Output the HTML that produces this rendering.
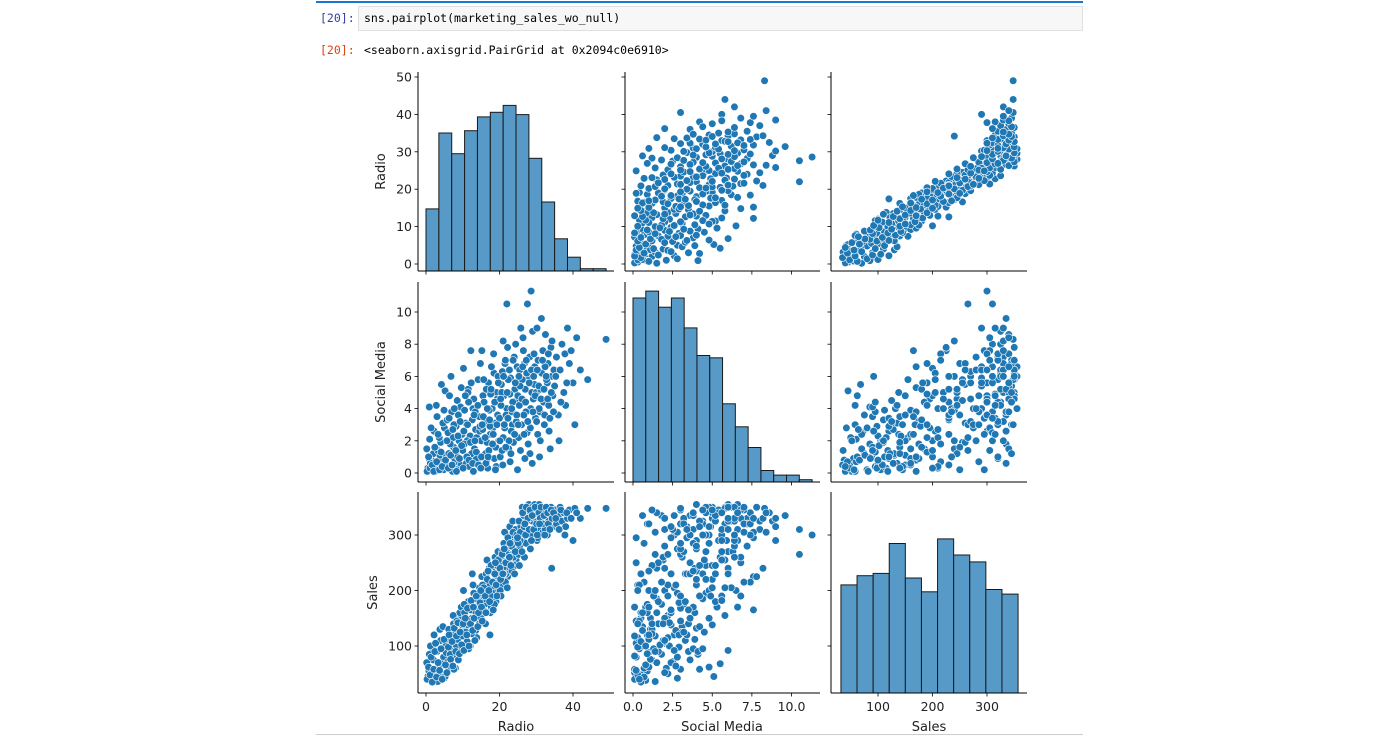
<!DOCTYPE html>
<html><head><meta charset="utf-8"><style>
body{margin:0;background:#fff;width:1400px;height:736px;overflow:hidden;position:relative;font-family:"DejaVu Sans","Liberation Sans",sans-serif}
.mono{font-family:"DejaVu Sans Mono","Liberation Mono",monospace;font-size:11.5px;position:absolute}
</style></head><body>
<div style="position:absolute;left:316px;top:1px;width:767px;height:2px;background:#1976d2"></div>
<div class="mono" style="left:320px;top:11px;color:#303f9f">[20]:</div>
<div style="position:absolute;left:358px;top:6px;width:725px;height:25px;border:1px solid #e0e0e0;background:#f7f7f7;box-sizing:border-box"></div>
<div class="mono" style="left:364px;top:11px;color:#000">sns.pairplot(marketing_sales_wo_null)</div>
<div class="mono" style="left:320px;top:43px;color:#d84315">[20]:</div>
<div class="mono" style="left:364px;top:43px;color:#000">&lt;seaborn.axisgrid.PairGrid at 0x2094c0e6910&gt;</div>
<div style="position:absolute;left:316px;top:734px;width:767px;height:1px;background:#ccc"></div>
<svg id="chart" width="1400" height="736" style="position:absolute;left:0;top:0"></svg>
<script>
const radioHistCounts=[27,60,51,61,67,69,72,68,49,30,14,6,1,1];
const socialHistCounts=[80,83,76,80,67,55,54,34,24,15,5,3,3,1];
const salesHistCounts=[47,51,52,65,50,44,67,60,57,45,43];
const radioTicks=[0,10,20,30,40,50];
const socialTicks=[0,2,4,6,8,10];
const salesTicks=[100,200,300];
const radioXTicks=[0,20,40];
const socialXTicks=[0,2.5,5,7.5,10];
const socialXLabels=["0.0","2.5","5.0","7.5","10.0"];
const varNames=["Radio","Social Media","Sales"];
const points=[
[0.5,0.3,45],[1,2.1,60],[1.5,0.8,38],[2,1.2,75],[2.5,0.1,52],[3,3.5,90],[3.5,0.5,48],[4,1.9,110],[4.5,0.9,65],[5,2.8,42],[0.2,1.5,70],[1.8,0.4,95],[2.8,4.2,58],[3.8,1.1,130],[4.8,0.2,80],[0.8,0.9,55],[2.2,2.6,120],[4.2,5.5,68],[1.2,0.6,100],[3.2,1.4,36],[0.9,4.1,85],[2.6,0.2,105],[4.6,3.1,135],[3.6,2.2,50],
[5.5,1.0,88],[6,2.5,72],[6.5,0.3,115],[7,3.8,95],[7.5,1.6,140],[8,0.7,60],[8.5,4.5,125],[9,2.0,105],[9.5,0.5,150],[5.2,5.1,45],[6.2,1.2,130],[7.2,0.1,82],[8.2,2.9,98],[9.2,1.5,160],[5.8,3.3,110],[6.8,6.0,92],[7.8,0.9,120],[8.8,3.6,75],[9.8,2.4,138],[6.4,4.8,62],[7.4,2.2,155],[8.6,1.0,112],[9.6,5.3,170],[5.4,0.6,100],[6.6,1.8,85],[7.6,3.0,58],[8.4,0.2,145],[9.4,4.1,90],
[10,1.4,118],[10.5,3.9,160],[11,0.6,135],[11.5,5.2,180],[12,2.3,100],[12.5,1.1,150],[13,4.6,195],[13.5,2.7,128],[14,0.8,170],[14.5,3.5,140],[10.2,6.5,200],[11.2,2.0,108],[12.2,7.6,165],[13.2,1.5,185],[14.2,5.8,155],[10.8,3.1,125],[11.8,0.4,145],[12.8,4.0,210],[13.8,2.2,115],[14.8,6.8,190],[10.4,1.8,175],[11.6,4.4,95],[12.6,3.3,230],[13.6,0.9,160],[14.6,2.6,205],[11.4,5.0,138],[12.4,1.2,122],[13.4,3.8,170],
[15,2.0,150],[15.5,4.8,200],[16,3.2,175],[16.5,0.7,215],[17,5.6,190],[17.5,2.4,160],[18,4.0,235],[18.5,6.2,205],[19,1.6,180],[19.5,3.6,250],[15.2,7.6,225],[16.2,1.2,140],[17.2,3.9,240],[18.2,2.8,195],[19.2,5.0,220],[15.8,4.4,185],[16.8,0.3,210],[17.8,6.6,170],[18.8,3.1,260],[19.8,2.0,200],[16.4,5.2,230],[17.4,2.9,120],[18.4,7.4,215],[19.4,4.6,245],[15.6,3.5,165],[16.6,1.9,255],[17.6,4.9,190],[18.6,0.9,175],[19.6,6.0,270],[15.4,2.7,210],
[20,3.4,230],[20.5,5.5,260],[21,2.2,210],[21.5,6.8,250],[22,4.0,275],[22.5,1.5,240],[23,5.9,290],[23.5,3.0,265],[24,7.2,280],[24.5,4.5,255],[20.2,1.0,200],[21.2,4.8,285],[22.2,7.8,225],[23.2,2.6,300],[24.2,5.2,245],[20.8,6.3,270],[21.8,3.6,230],[22.8,4.9,315],[23.8,1.9,260],[24.8,6.6,290],[20.4,4.2,190],[21.4,2.8,305],[22.4,5.8,255],[23.4,3.8,235],[24.4,8.0,310],[20.6,5.0,245],[21.6,7.0,215],[22.6,2.0,280],[23.6,4.4,325],[24.6,3.2,270],[22.0,10.5,265],[21.0,8.2,240],
[25,4.8,300],[25.5,6.4,280],[26,3.0,320],[26.5,7.6,295],[27,5.2,340],[27.5,2.5,310],[28,6.0,355],[28.5,4.0,290],[29,8.8,325],[29.5,5.5,345],[25.2,2.2,265],[26.2,5.8,350],[27.2,3.8,285],[28.2,7.2,330],[29.2,4.6,300],[25.8,9.0,315],[26.8,6.8,260],[27.8,1.8,335],[28.8,5.0,350],[29.8,3.4,315],[25.4,4.2,245],[26.4,8.4,305],[27.4,6.2,325],[28.4,2.8,275],[29.4,7.4,340],[25.6,5.4,290],[26.6,3.6,335],[27.6,10.5,310],[28.6,11.3,300],[29.6,6.6,355],
[30,5.0,330],[30.5,7.0,345],[31,3.8,310],[31.5,6.2,350],[32,4.4,320],[32.5,8.6,340],[33,5.6,300],[33.5,2.6,335],[34,7.8,350],[34.5,4.8,315],[30.2,9.0,290],[31.2,5.2,325],[32.2,3.0,345],[33.2,6.8,330],[34.2,6.0,240],[30.8,4.0,355],[31.8,7.6,305],[32.8,5.8,320],[33.8,1.5,340],[34.8,6.4,325],[30.4,2.4,295],[31.4,9.6,335],[32.4,6.6,310],[33.4,4.2,325],
[35,5.4,345],[35.5,7.2,320],[36,3.6,335],[36.5,6.4,350],[37,8.0,325],[37.5,5.0,340],[38,4.2,315],[38.5,9.0,330],[39,6.8,345],[40,5.6,290],[40.5,3.0,348],[42,6.4,330],[44,5.8,348],[49,8.3,348],[36.2,2.0,310],[37.8,7.4,300],
[0.3,0.1,40],[0.7,1.0,62],[1.1,0.3,48],[1.4,2.8,80],[1.7,0.5,35],[2.1,0.1,58],[2.4,1.6,90],[2.9,0.7,44],[3.3,2.4,70],[3.7,0.2,56],[4.1,1.3,95],[4.4,0.4,40],[4.9,3.9,112],[5.3,0.8,66],[5.7,2.0,52],[6.1,0.3,98],[6.3,3.4,120],[6.7,1.1,76],[7.1,0.5,108],[7.3,2.7,64],[7.7,4.0,132],[8.1,1.4,90],[8.3,0.1,118],[8.7,2.3,142],[9.1,0.9,86],[9.3,3.2,125],[9.7,1.7,102],[10.1,0.3,140],[10.3,2.6,92],[10.7,4.8,150],[11.1,1.0,120],[11.3,3.0,168],[11.7,0.8,100],[12.1,1.9,140],[12.3,5.6,182],[12.7,0.6,128],[13.1,3.6,150],[13.3,2.0,110],[13.7,1.3,190],[14.1,4.2,135],[14.3,0.5,160],[14.7,2.9,178],
[15.1,1.0,170],[15.3,3.0,145],[15.7,5.8,205],[16.1,2.2,190],[16.3,0.6,160],[16.7,4.0,220],[17.1,1.4,200],[17.3,3.3,180],[17.7,5.2,245],[18.1,1.8,215],[18.3,2.4,165],[18.7,4.4,230],[19.1,0.4,210],[19.3,3.0,190],[19.7,5.6,255],[20.1,2.0,240],[20.3,4.6,220],[20.7,1.4,265],[21.1,6.0,230],[21.3,3.0,275],[21.7,1.6,250],[22.1,5.0,205],[22.3,3.4,295],[22.7,6.4,260],[23.1,1.2,245],[23.3,4.0,280],[23.7,7.0,305],[24.1,2.4,230],[24.3,5.6,270],[24.7,3.6,300],
[25.1,3.0,285],[25.3,6.0,325],[25.7,1.4,305],[26.1,4.6,270],[26.3,6.6,340],[26.7,2.4,315],[27.1,4.4,300],[27.3,7.0,350],[27.7,3.2,330],[28.1,5.6,310],[28.3,1.2,345],[28.7,6.4,290],[29.1,3.8,335],[29.3,6.0,310],[29.7,4.8,350],[30.1,3.2,320],[30.3,6.4,300],[30.7,5.4,340],[31.1,2.0,330],[31.3,4.6,350],[31.7,7.0,320],[32.1,5.2,335],[32.3,3.6,300],[32.7,6.0,350],[33.1,4.6,340],[33.3,7.4,320],[33.7,3.4,310],[34.1,5.0,345],[34.3,8.2,330],[34.7,3.8,340],[35.3,6.0,330],[36.7,4.4,345],[38.3,5.6,340],[39.5,7.6,330],[41,8.4,340],
[18.9,0.2,250],[22.9,0.7,285],[26.9,0.9,320],[20.9,0.5,230],[16.9,1.0,235],[24.9,0.2,295],[28.9,0.6,335],[30.9,1.0,320],[14.9,0.3,200],[12.9,0.1,170]
];
const NS="http://www.w3.org/2000/svg";
const svg=document.getElementById('chart');
function mk(tag,attrs,parent){const e=document.createElementNS(NS,tag);for(const k in attrs)e.setAttribute(k,attrs[k]);(parent||svg).appendChild(e);return e;}
const xScale=[v=>426+v*3.675, v=>633+v*15.85, v=>878+(v-100)*0.545];
const yScale=[v=>264-v*3.74, v=>473-v*16.1, v=>646-(v-100)*0.555];
const colL=[418,625,831], colR=[614,820,1027];
const rowT=[72,282,492], rowB=[271,482,693];
const xTickSets=[radioXTicks,socialXTicks,salesTicks];
const xTickLabels=[radioXTicks.map(String),socialXLabels,salesTicks.map(String)];
const yTickSets=[radioTicks,socialTicks,salesTicks];
const histCounts=[radioHistCounts,socialHistCounts,salesHistCounts];
const histRange=[[0,49],[0,11.3],[32,357]];
const pxPerCount=2.3;
for(let r=0;r<3;r++)for(let c=0;c<3;c++){
  const g=mk('g',{});
  
  
  if(r===c){
    const counts=histCounts[c];const [a,b]=histRange[c];const w=(b-a)/counts.length;
    counts.forEach((n,i)=>{
      const x0=xScale[c](a+i*w),x1=xScale[c](a+(i+1)*w);const h=n*pxPerCount;
      const rc=mk('rect',{x:x0,y:rowB[r]-h,width:x1-x0,height:h,fill:'#5799c7',stroke:'#1a1a1a','stroke-width':1},g);
      
      
    });
  } else {
    points.forEach(p=>{
      const ci=mk('circle',{cx:xScale[c](p[c]),cy:yScale[r](p[r]),r:3.8,fill:'#1f77b4',stroke:'#fff','stroke-width':0.6},g);
      
      
    });
  }
  mk('line',{x1:colL[c],y1:rowT[r],x2:colL[c],y2:rowB[r],stroke:'#000','stroke-width':1},g);
  mk('line',{x1:colL[c],y1:rowB[r],x2:colR[c],y2:rowB[r],stroke:'#000','stroke-width':1},g);
  yTickSets[r].forEach(t=>{const y=yScale[r](t);
    mk('line',{x1:colL[c]-3.5,y1:y,x2:colL[c],y2:y,stroke:'#000','stroke-width':0.8},g);
    if(c===0){const tx=mk('text',{x:colL[c]-6,y:y+4.5,'text-anchor':'end','font-size':12.5,fill:'#222'},g);tx.textContent=t;
      
      }
  });
  xTickSets[c].forEach((t,i)=>{const x=xScale[c](t);
    mk('line',{x1:x,y1:rowB[r],x2:x,y2:rowB[r]+3.5,stroke:'#000','stroke-width':0.8},g);
    if(r===2){const tx=mk('text',{x:x,y:rowB[r]+18,'text-anchor':'middle','font-size':12.5,fill:'#222'},g);tx.textContent=xTickLabels[c][i];
      
      }
  });
}
const yLabX=[385,385,377], xLabC=[516,722,929];
for(let i=0;i<3;i++){
  const cy=(rowT[i]+rowB[i])/2;
  const t=mk('text',{x:yLabX[i],y:cy,'text-anchor':'middle','font-size':13,fill:'#222',transform:`rotate(-90 ${yLabX[i]} ${cy})`});
  t.textContent=varNames[i];
  
  
  const t2=mk('text',{x:xLabC[i],y:731,'text-anchor':'middle','font-size':13,fill:'#222'});
  t2.textContent=varNames[i];
  
  
}
</script>
</body></html>
